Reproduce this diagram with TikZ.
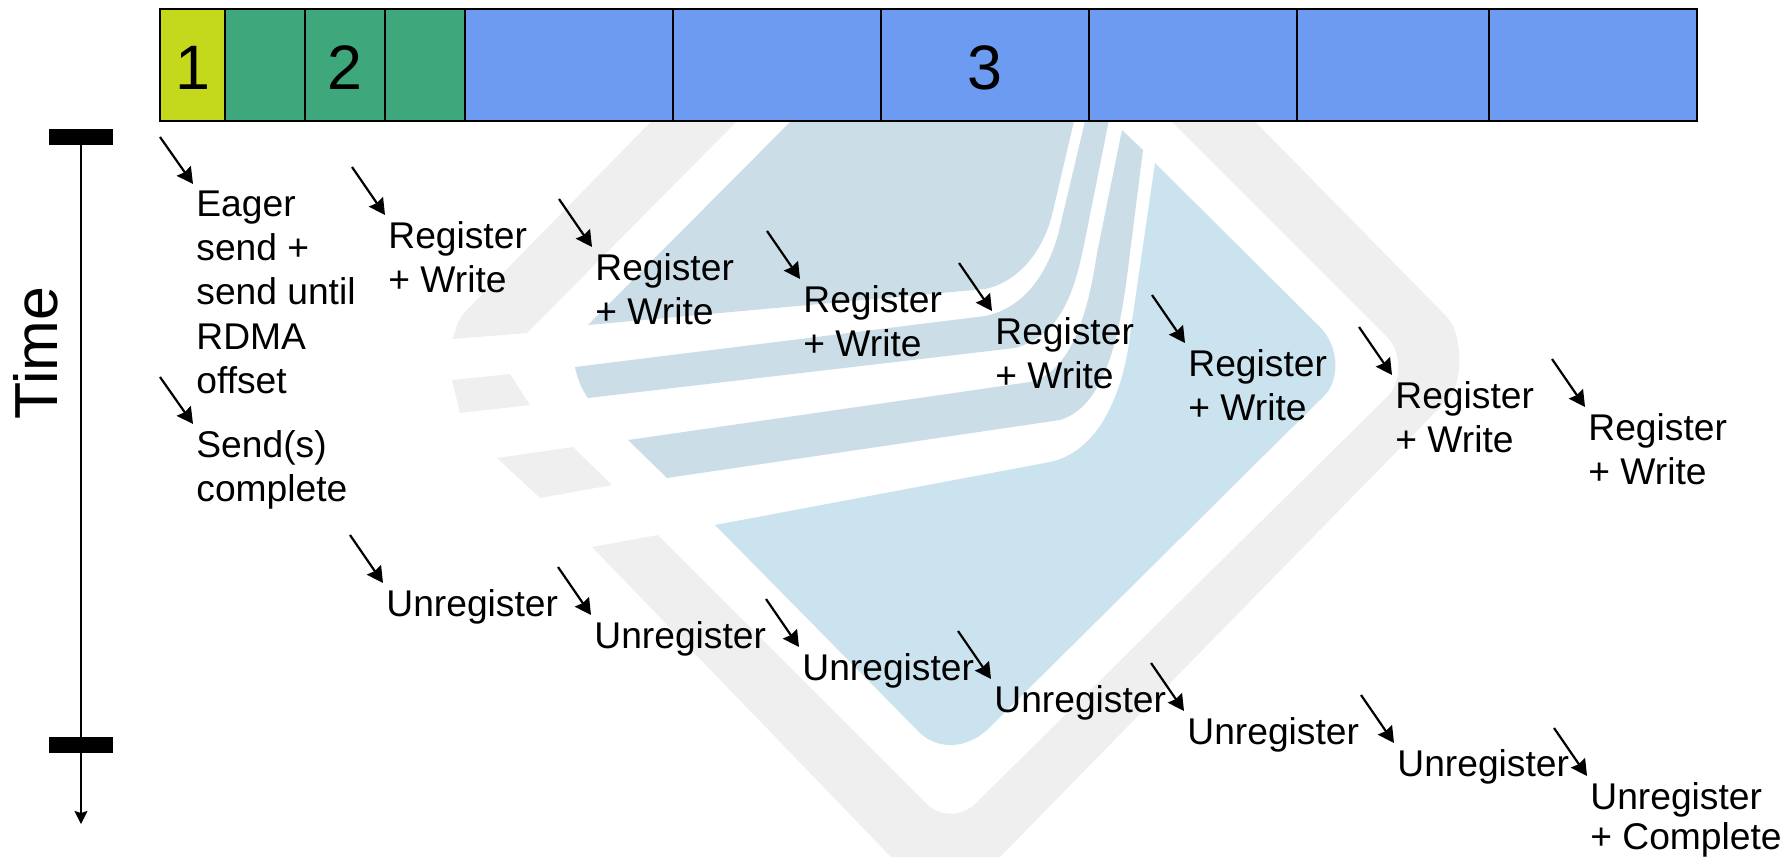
\documentclass[tikz,border=0pt]{standalone}
\usepackage{tikz}
\usetikzlibrary{arrows.meta}
\usepackage{xcolor}
\usepackage{fontspec}
\setmainfont{Liberation Sans}
\definecolor{eagercolor}{RGB}{197, 217, 28}
\definecolor{sendcolor}{RGB}{62, 167, 123}
\definecolor{rdmacolor}{RGB}{108, 155, 241}
\definecolor{logogrey}{RGB}{239, 239, 239}
\definecolor{logoblue}{RGB}{203, 222, 232}
\definecolor{logopale}{RGB}{203, 227, 239}

\begin{document}
\begin{tikzpicture}[
    x=0.5pt, y=-0.5pt,
    cell/.style={rectangle, draw=black, line width=1pt, inner sep=0pt, outer sep=0pt, minimum height=56pt, text height=24.8pt, text depth=0pt, font=\fontsize{31.4}{36}\selectfont},
    tick/.style={rectangle, fill=black, inner sep=0pt, outer sep=0pt, minimum width=32pt, minimum height=8pt},
    label/.style={anchor=north west, align=left, inner xsep=1.5pt, inner ysep=3pt, font=\fontsize{18.6}{22.2}\selectfont},
    stepedge/.style={-{Stealth[length=8pt, width=8.5pt, inset=0.8pt]}, line width=1.1pt},
    timeedge/.style={-{Stealth[length=6.5pt, width=6.5pt, inset=1pt]}, line width=0.8pt}
]
    \useasboundingbox (0,0) rectangle (1792,857);

    % Logo behind everything
    \fill[logogrey] (672,100) -- (464,313) .. controls (458,320) and (455,330) .. (453,339) -- (527,333) -- (758,100) -- cycle;
    \fill[logogrey] (452,380) -- (510,374) -- (530,405) -- (460,413) -- cycle;
    \fill[logogrey] (497,458) -- (573,447) -- (612,485) -- (540,498) -- cycle;
    \fill[logogrey] (1150,100) -- (1387,337) .. controls (1402,352) and (1402,382) .. (1387,397) -- (977,802) .. controls (962,818) and (938,818) .. (923,800) -- (658,535) -- (592,547) -- (891,857) -- (1000,857) -- (1450,397) .. controls (1463,380) and (1463,335) .. (1447,317) -- (1234,100) -- cycle;
    \fill[logoblue] (812,100) -- (588,325) -- (985,289) .. controls (1015,283) and (1042,255) .. (1052,215) -- (1079,100) -- cycle;
    \fill[logoblue] (575,367) -- (985,316) .. controls (1020,309) and (1045,280) .. (1058,235) -- (1090,100) -- (1113,100) -- (1085,240) .. controls (1075,290) and (1062,335) .. (1015,348) -- (588,398) .. controls (582,390) and (577,378) .. (575,367) -- cycle;
    \fill[logoblue] (628,440) -- (1030,382) .. controls (1075,372) and (1090,300) .. (1097,253) -- (1122,130) -- (1143,150) -- (1130,253) .. controls (1122,320) and (1110,405) .. (1060,420) -- (667,478) -- cycle;
    \fill[logopale] (715,525) -- (1050,462) .. controls (1105,450) and (1125,380) .. (1130,335) -- (1155,163) -- (1320,327) .. controls (1340,347) and (1340,382) .. (1323,397) -- (987,730) .. controls (965,750) and (935,750) .. (917,730) -- cycle;

    % Message bar
    \foreach \i/\xa/\xb/\col/\txt in {
        1/160/225/eagercolor/1, 2/225/305/sendcolor/, 3/305/385/sendcolor/2, 4/385/465/sendcolor/,
        5/465/673/rdmacolor/, 6/673/881/rdmacolor/, 7/881/1089/rdmacolor/3, 8/1089/1297/rdmacolor/,
        9/1297/1489/rdmacolor/, 10/1489/1697/rdmacolor/} {
        \node[cell, fill=\col, minimum width={(\xb-\xa)*0.5pt}] (c\i) at ({(\xa+\xb)/2}, 65) {\txt};
    }

    % Time axis
    \node[tick] (t1) at (81, 137) {};
    \node[tick] (t2) at (81, 745) {};
    \coordinate (tend) at (81, 824);
    \draw[line width=0.8pt] (t1) -- (t2);
    \draw[timeedge] (t2) -- (tend);
    \node[rotate=90, font=\fontsize{30.4}{36}\selectfont] (time) at (36, 353) {Time};

    % Eager send and completion
    \coordinate (es) at (160, 137);
    \node[label] (eager) at (193, 184) {Eager\\send +\\send until\\RDMA\\offset};
    \draw[stepedge] (es) -- (eager.north west);
    \coordinate (ss) at (160, 377);
    \node[label] (sends) at (193, 424) {Send(s)\\complete};
    \draw[stepedge] (ss) -- (sends.north west);

    % Register steps
    \foreach \i/\x/\y in {1/385/215, 2/592/247, 3/800/279, 4/992/311, 5/1185/343, 6/1392/375, 7/1585/407} {
        \coordinate (rs\i) at (\x-33, \y-48);
        \node[label] (rw\i) at (\x, \y) {Register\\+ Write};
        \draw[stepedge] (rs\i) -- (rw\i.north west);
    }

    % Unregister steps
    \foreach \i/\x/\y in {1/383/583, 2/591/615, 3/799/647, 4/991/679, 5/1184/711, 6/1394/743} {
        \coordinate (us\i) at (\x-33, \y-48);
        \node[label] (un\i) at (\x, \y) {Unregister};
        \draw[stepedge] (us\i) -- (un\i.north west);
    }
    \coordinate (us7) at (1554, 728);
    \node[label] (un7) at (1587, 776) {Unregister\\[-2pt]+ Complete};
    \draw[stepedge] (us7) -- (un7.north west);
\end{tikzpicture}
\end{document}
